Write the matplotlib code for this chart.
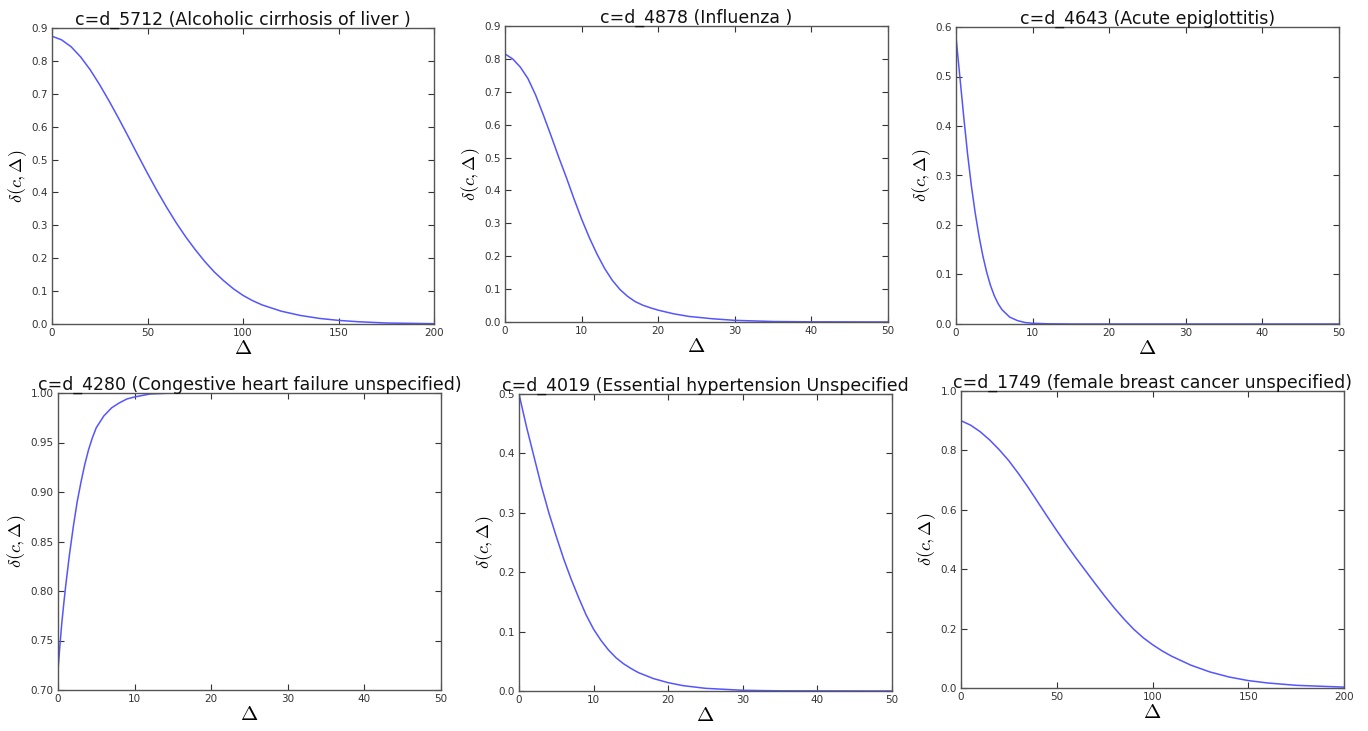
import matplotlib
matplotlib.use("Agg")
import matplotlib.pyplot as plt

plt.rcParams['mathtext.fontset'] = 'cm'
plt.rcParams['font.family'] = ['DejaVu Sans']

# valores
titles = [
    'c=d_5712 (Alcoholic cirrhosis of liver )',
    'c=d_4878 (Influenza )',
    'c=d_4643 (Acute epiglottitis)',
    'c=d_4280 (Congestive heart failure unspecified)',
    'c=d_4019 (Essential hypertension Unspecified',
    'c=d_1749 (female breast cancer unspecified)',
]

x1 = [0, 5, 10, 15, 20, 25, 30, 35, 40, 45, 50, 55, 60, 65, 70, 75, 80, 85, 90, 95, 100,
      105, 110, 120, 130, 140, 150, 160, 175, 200]
y1 = [0.875, 0.864, 0.843, 0.812, 0.773, 0.727, 0.677, 0.624, 0.569, 0.513, 0.458, 0.405,
      0.355, 0.308, 0.265, 0.226, 0.19, 0.158, 0.131, 0.107, 0.087, 0.071, 0.058, 0.039,
      0.026, 0.017, 0.011, 0.007, 0.003, 0.001]

x2 = [0, 1, 2, 3, 4, 5, 6, 7, 8, 9, 10, 11, 12, 13, 14, 15, 16, 17, 18, 19, 20, 22, 24,
      27, 30, 35, 40, 50]
y2 = [0.815, 0.80, 0.775, 0.74, 0.69, 0.63, 0.567, 0.502, 0.44, 0.375, 0.313, 0.257,
      0.207, 0.163, 0.127, 0.099, 0.078, 0.062, 0.051, 0.043, 0.036, 0.025, 0.017, 0.01,
      0.005, 0.0015, 0.0005, 0.0]

x3 = [0, 0.5, 1, 1.5, 2, 2.5, 3, 3.5, 4, 4.5, 5, 5.5, 6, 7, 8, 9, 10, 12, 15, 50]
y3 = [0.58, 0.50, 0.42, 0.345, 0.28, 0.225, 0.178, 0.138, 0.105, 0.078, 0.057, 0.041,
      0.029, 0.014, 0.007, 0.003, 0.0015, 0.0004, 0.0, 0.0]

x4 = [0, 0.25, 0.5, 0.75, 1, 1.5, 2, 2.5, 3, 3.5, 4, 4.5, 5, 6, 7, 8, 9, 10, 12, 15, 50]
y4 = [0.72, 0.745, 0.768, 0.787, 0.805, 0.837, 0.865, 0.89, 0.91, 0.928, 0.943, 0.955,
      0.965, 0.977, 0.985, 0.99, 0.994, 0.996, 0.999, 1.0, 1.0]

x5 = [0, 1, 2, 3, 4, 5, 6, 7, 8, 9, 10, 11, 12, 13, 14, 15, 16, 18, 20, 22, 25, 30, 35, 50]
y5 = [0.50, 0.445, 0.395, 0.345, 0.30, 0.26, 0.222, 0.188, 0.157, 0.128, 0.104, 0.085,
      0.069, 0.056, 0.046, 0.038, 0.031, 0.021, 0.014, 0.009, 0.0045, 0.0012, 0.0003, 0.0]

x6 = [0, 5, 10, 15, 20, 25, 30, 35, 40, 45, 50, 55, 60, 65, 70, 75, 80, 85, 90, 95, 100,
      105, 110, 120, 130, 140, 150, 160, 175, 200]
y6 = [0.90, 0.885, 0.863, 0.835, 0.802, 0.765, 0.722, 0.676, 0.627, 0.578, 0.53, 0.483,
      0.438, 0.395, 0.352, 0.31, 0.27, 0.233, 0.199, 0.17, 0.146, 0.125, 0.107, 0.077,
      0.054, 0.037, 0.025, 0.017, 0.009, 0.003]

series = [(x1, y1), (x2, y2), (x3, y3), (x4, y4), (x5, y5), (x6, y6)]
xlims = [(0, 200), (0, 50), (0, 50), (0, 50), (0, 50), (0, 200)]
xsteps = [50, 10, 10, 10, 10, 50]
ylims = [(0, 0.9), (0, 0.9), (0, 0.6), (0.70, 1.00), (0, 0.5), (0, 1.0)]
yfmt = ['%.1f', '%.1f', '%.1f', '%.2f', '%.1f', '%.1f']
ysteps = [0.1, 0.1, 0.1, 0.05, 0.1, 0.2]

W, H = 1368, 731
# left, top, right, bottom en píxeles
boxes = [(52, 28, 434, 324), (505, 26, 888, 322), (956, 27, 1339, 324),
         (58, 393, 441, 690), (519, 394, 892, 691), (961, 391, 1344, 688)]

fig = plt.figure(figsize=(W / 100, H / 100), dpi=100, facecolor='white')

for i in range(6):
    l, t, r, b = boxes[i]
    ax = fig.add_axes([l / W, 1 - b / H, (r - l) / W, (b - t) / H])
    xs, ys = series[i]
    ax.plot(xs, ys, color='#5555ff', lw=1.1)
    ax.set_xlim(*xlims[i])
    ax.set_ylim(*ylims[i])
    ax.set_xticks(range(xlims[i][0], xlims[i][1] + 1, xsteps[i]))
    lo, hi = ylims[i]
    n = int(round((hi - lo) / ysteps[i]))
    ticks = [lo + k * ysteps[i] for k in range(n + 1)]
    ax.set_yticks(ticks)
    ax.set_yticklabels([yfmt[i] % v for v in ticks])
    ax.tick_params(direction='in', top=True, right=True, labelsize=7.5,
                   colors='#333333', length=4, width=0.8, pad=3)
    for sp in ax.spines.values():
        sp.set_color('#555555')
        sp.set_linewidth(1.0)
    ax.set_title(titles[i], fontsize=12.5, pad=2, color='#111111')
    ax.set_xlabel(r'$\Delta$', fontsize=15, labelpad=0)
    ax.set_ylabel(r'$\delta(c,\Delta)$', fontsize=13, labelpad=2)

fig.savefig('out.png', dpi=100, facecolor='white')
